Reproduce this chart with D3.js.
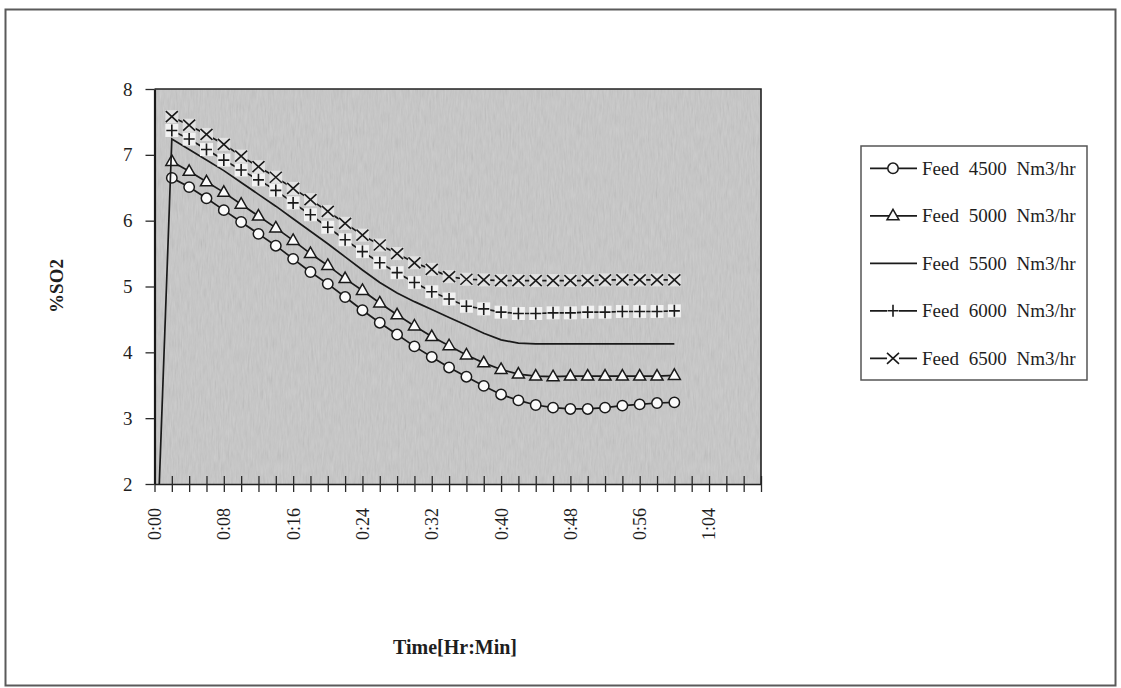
<!DOCTYPE html>
<html>
<head>
<meta charset="utf-8">
<script src="https://cdn.jsdelivr.net/npm/d3@7"></script>
<style>
  body { margin: 0; background: #fff; }
  text { font-family: "Liberation Serif", "Times New Roman", serif; fill: #1e1e1e; }
</style>
</head>
<body>
<div id="chart"></div>
<script>
// ---------- DATA ----------
// time in minutes (x categories)
var timeMin = [0, 2, 4, 6, 8, 10, 12, 14, 16, 18, 20, 22, 24, 26, 28, 30,
               32, 34, 36, 38, 40, 42, 44, 46, 48, 50, 52, 54, 56, 58, 60];

var feed4500 = [null, 6.65, 6.51, 6.34, 6.16, 5.98, 5.80, 5.62, 5.42, 5.22, 5.04, 4.84, 4.64, 4.45, 4.27, 4.09,
                3.93, 3.77, 3.63, 3.49, 3.36, 3.27, 3.20, 3.16, 3.14, 3.14, 3.16, 3.19, 3.21, 3.23, 3.24];
var feed5000 = [null, 6.90, 6.75, 6.59, 6.43, 6.25, 6.07, 5.89, 5.70, 5.50, 5.32, 5.12, 4.94, 4.75, 4.57, 4.40,
                4.24, 4.10, 3.96, 3.84, 3.74, 3.67, 3.64, 3.63, 3.64, 3.64, 3.64, 3.64, 3.64, 3.64, 3.65];
var feed5500 = [0, 7.24, 7.08, 6.92, 6.76, 6.58, 6.40, 6.22, 6.03, 5.84, 5.65, 5.45, 5.25, 5.06, 4.90, 4.77,
                4.65, 4.53, 4.41, 4.29, 4.19, 4.14, 4.13, 4.13, 4.13, 4.13, 4.13, 4.13, 4.13, 4.13, 4.13];
var feed6000 = [null, 7.37, 7.24, 7.08, 6.92, 6.77, 6.62, 6.46, 6.27, 6.09, 5.90, 5.71, 5.53, 5.36, 5.21, 5.06,
                4.92, 4.81, 4.70, 4.66, 4.61, 4.59, 4.59, 4.60, 4.60, 4.61, 4.61, 4.62, 4.62, 4.62, 4.63];
var feed6500 = [null, 7.58, 7.45, 7.31, 7.16, 6.98, 6.82, 6.66, 6.49, 6.32, 6.14, 5.96, 5.78, 5.63, 5.50, 5.36,
                5.26, 5.15, 5.11, 5.10, 5.09, 5.09, 5.09, 5.09, 5.09, 5.09, 5.10, 5.10, 5.10, 5.10, 5.10];

var seriesNames = ['Feed 4500 Nm3/hr', 'Feed 5000 Nm3/hr', 'Feed 5500 Nm3/hr', 'Feed 6000 Nm3/hr', 'Feed 6500 Nm3/hr'];
var seriesMarkers = ['circle', 'triangle', 'none', 'plus', 'times'];

// axis ticks
var tickMinutes = [0, 2, 4, 6, 8, 10, 12, 14, 16, 18, 20, 22, 24, 26, 28, 30, 32, 34,
                   36, 38, 40, 42, 44, 46, 48, 50, 52, 54, 56, 58, 60, 62, 64, 66, 68, 70];
var labelMinutes = [0, 8, 16, 24, 32, 40, 48, 56, 64];
var xTickLabels = ['0:00', '0:08', '0:16', '0:24', '0:32', '0:40', '0:48', '0:56', '1:04'];
var yTicks = [2, 3, 4, 5, 6, 7, 8];

var allSeries = [feed4500, feed5000, feed5500, feed6000, feed6500];

//----------SVG----------
var svgWidth = 1121;
var svgHeight = 688;

// plot area edges
var plot = { left: 154.5, right: 761, top: 89, bottom: 484 };

var svg = d3.select('#chart')
    .append('svg')
    .attr('width', svgWidth)
    .attr('height', svgHeight);

var defs = svg.append('defs');
defs.append('clipPath').attr('id', 'plotClip')
    .append('rect')
    .attr('x', plot.left).attr('y', plot.top)
    .attr('width', plot.right - plot.left).attr('height', plot.bottom - plot.top);

// grainy scan look for the plot background
var noise = defs.append('filter').attr('id', 'grain')
    .attr('x', 0).attr('y', 0).attr('width', '100%').attr('height', '100%');
noise.append('feTurbulence')
    .attr('type', 'fractalNoise').attr('baseFrequency', '0.6 0.08').attr('numOctaves', 3).attr('seed', 7);
noise.append('feColorMatrix').attr('type', 'matrix')
    .attr('values', '0.33 0.33 0.33 0 0  0.33 0.33 0.33 0 0  0.33 0.33 0.33 0 0  0 0 0 0 1');

// white page + outer frame
svg.append('rect').attr('width', svgWidth).attr('height', svgHeight).attr('fill', '#fff');
svg.append('rect')
    .attr('x', 5.5).attr('y', 9.5)
    .attr('width', 1110).attr('height', 676)
    .attr('fill', 'none')
    .attr('stroke', '#5a5a5a')
    .attr('stroke-width', 2);

// plot background
svg.append('rect')
    .attr('x', plot.left).attr('y', plot.top)
    .attr('width', plot.right - plot.left).attr('height', plot.bottom - plot.top)
    .attr('fill', '#c9c9c9');
svg.append('rect')
    .attr('x', plot.left).attr('y', plot.top)
    .attr('width', plot.right - plot.left).attr('height', plot.bottom - plot.top)
    .attr('filter', 'url(#grain)')
    .attr('opacity', 0.18);

//----------SCALES & AXES----------
var xScale = d3.scaleLinear()
    .domain([0, 70])
    .range([plot.left, plot.right]);
var yScale = d3.scaleLinear()
    .domain([2, 8])
    .range([plot.bottom, plot.top]);

var bottomAxis = d3.axisBottom(xScale)
    .tickValues(tickMinutes)
    .tickSizeOuter(0)
    .tickFormat(function(m) {
        var i = labelMinutes.indexOf(m);
        return i >= 0 ? xTickLabels[i] : '';
    });
var leftAxis = d3.axisLeft(yScale)
    .tickValues(yTicks)
    .tickSize(9)
    .tickSizeOuter(0)
    .tickPadding(13)
    .tickFormat(d3.format('d'));

var xAxisG = svg.append('g')
    .attr('transform', `translate(0, ${plot.bottom})`)
    .call(bottomAxis);
// cross ticks + rotated labels
xAxisG.selectAll('.tick line')
    .attr('y1', -8).attr('y2', 8)
    .attr('stroke', '#2a2a2a').attr('stroke-width', 1.3);
xAxisG.selectAll('.tick text')
    .attr('transform', 'rotate(-90)')
    .attr('text-anchor', 'end')
    .attr('x', -24).attr('y', 0).attr('dy', '0.33em')
    .style('font-size', '18px');
xAxisG.select('.domain').attr('stroke', '#222').attr('stroke-width', 1.6);

var yAxisG = svg.append('g')
    .attr('transform', `translate(${plot.left}, 0)`)
    .call(leftAxis);
yAxisG.selectAll('.tick line').attr('stroke', '#2a2a2a').attr('stroke-width', 1.3);
yAxisG.selectAll('.tick text').style('font-size', '19px');
yAxisG.select('.domain').attr('stroke', '#1a1a1a').attr('stroke-width', 2.2);

// top and right borders of plot area
svg.append('path')
    .attr('d', `M${plot.left},${plot.top}H${plot.right}V${plot.bottom}`)
    .attr('fill', 'none')
    .attr('stroke', '#222')
    .attr('stroke-width', 1.6);

//----------MARKERS----------
function markerPath(type) {
    if (type === 'triangle') return 'M0,-6.5L6,4L-6,4Z';
    if (type === 'plus') return 'M-5.5,0H5.5M0,-6V6';
    if (type === 'times') return 'M-6,-5.5L6,5.5M-6,5.5L6,-5.5';
    return '';
}

function drawMarker(g, type, x, y) {
    if (type === 'circle') {
        g.append('circle')
            .attr('cx', x).attr('cy', y).attr('r', 5.2)
            .attr('fill', '#fafafa').attr('stroke', '#1a1a1a').attr('stroke-width', 1.5);
    } else if (type === 'triangle') {
        g.append('path')
            .attr('d', markerPath(type))
            .attr('transform', `translate(${x}, ${y})`)
            .attr('fill', '#fafafa').attr('stroke', '#1a1a1a').attr('stroke-width', 1.5);
    } else if (type === 'plus' || type === 'times') {
        g.append('path')
            .attr('d', markerPath(type))
            .attr('transform', `translate(${x}, ${y})`)
            .attr('fill', 'none').attr('stroke', '#1a1a1a').attr('stroke-width', 1.6);
    }
}

//----------LINES----------
var line = d3.line()
    .defined(function(d) { return d.v !== null; })
    .x(function(d) { return xScale(d.t); })
    .y(function(d) { return yScale(d.v); });

var plotG = svg.append('g').attr('clip-path', 'url(#plotClip)');

allSeries.forEach(function(values, s) {
    var pts = timeMin.map(function(t, i) { return { t: t, v: values[i] }; });
    var type = seriesMarkers[s];
    var g = plotG.append('g');

    g.append('path')
        .datum(pts)
        .attr('d', line)
        .attr('fill', 'none')
        .attr('stroke', '#1a1a1a')
        .attr('stroke-width', 1.7);

    var marked = pts.filter(function(d) { return d.v !== null && type !== 'none'; });

    // light halos that the scan shows round + and x markers
    if (type === 'plus' || type === 'times') {
        g.selectAll('rect.halo')
            .data(marked)
            .enter()
            .append('rect')
            .attr('class', 'halo')
            .attr('x', function(d) { return xScale(d.t) - 6.5; })
            .attr('y', function(d) { return yScale(d.v) - 6.5; })
            .attr('width', 13).attr('height', 13)
            .attr('fill', type === 'plus' ? '#f2f2f2' : '#e2e2e2');
    }

    marked.forEach(function(d) {
        drawMarker(g, type, xScale(d.t), yScale(d.v));
    });
});

//----------LEGEND----------
var legend = { left: 861, right: 1087, top: 146, bottom: 380 };
svg.append('rect')
    .attr('x', legend.left).attr('y', legend.top)
    .attr('width', legend.right - legend.left).attr('height', legend.bottom - legend.top)
    .attr('fill', '#fff')
    .attr('stroke', '#555')
    .attr('stroke-width', 1.5);

var legendY = d3.scalePoint()
    .domain(seriesNames)
    .range([168.3, 358.3]);

seriesNames.forEach(function(name, s) {
    var y = legendY(name);
    var g = svg.append('g');
    g.append('line')
        .attr('x1', 870).attr('x2', 917)
        .attr('y1', y).attr('y2', y)
        .attr('stroke', '#1a1a1a').attr('stroke-width', 1.7);
    if (seriesMarkers[s] === 'plus' || seriesMarkers[s] === 'times') {
        g.append('rect').attr('x', 887).attr('y', y - 6.5).attr('width', 12).attr('height', 13).attr('fill', '#fff');
    }
    drawMarker(g, seriesMarkers[s], 893, y);
    g.append('text')
        .attr('x', 922).attr('y', y)
        .attr('dy', '0.35em')
        .style('font-size', '19px')
        .style('word-spacing', '5px')
        .text(name);
});

//----------AXIS TITLES----------
svg.append('text')
    .attr('x', 455).attr('y', 647)
    .attr('dy', '0.35em')
    .attr('text-anchor', 'middle')
    .style('font-size', '20px')
    .style('font-weight', 'bold')
    .text('Time[Hr:Min]');

svg.append('text')
    .attr('transform', 'translate(56, 286) rotate(-90)')
    .attr('dy', '0.35em')
    .attr('text-anchor', 'middle')
    .style('font-size', '19px')
    .style('font-weight', 'bold')
    .text('%SO2');
</script>
</body>
</html>
